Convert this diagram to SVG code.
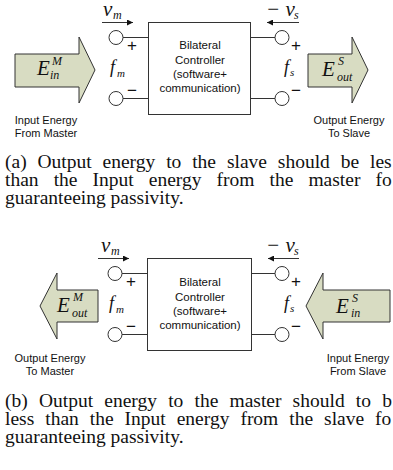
<svg xmlns="http://www.w3.org/2000/svg" width="393" height="470" viewBox="0 0 393 470">
<style>
.sans{font-family:"Liberation Sans",Arial,sans-serif;fill:#111}
.lbl{font-size:11px;text-anchor:middle}
.box{font-size:11.5px;text-anchor:middle}
.m{font-family:"Liberation Serif","Times New Roman",serif;font-style:italic;fill:#111}
.cap{font-family:"Liberation Serif","Times New Roman",serif;font-size:19.5px;fill:#111}
.pm{font-family:"Liberation Sans",Arial,sans-serif;font-size:17px;fill:#111}
.ln{stroke:#333;stroke-width:1;fill:none}
.big{fill:#d8dcc2;stroke:#333;stroke-width:1}
.term{fill:#fff;stroke:#333;stroke-width:1}
</style>
<defs>
<marker id="ah" viewBox="0 0 10 10" refX="10" refY="5" markerWidth="8" markerHeight="6" markerUnits="userSpaceOnUse" orient="auto">
<path d="M0,0 L10,5 L0,10 z" fill="#111"/>
</marker>
</defs>

<!-- (a) -->
<g id="controller-a">
<rect x="148.5" y="22.5" width="102" height="92" fill="#fff" stroke="#333"/>
<text class="sans box" x="200" y="49">Bilateral</text>
<text class="sans box" x="200" y="64">Controller</text>
<text class="sans box" x="200" y="78">(software+</text>
<text class="sans box" x="200" y="92">communication)</text>
</g>
<g id="master-port-a">
<circle class="term" cx="116" cy="37.5" r="7"/>
<circle class="term" cx="116" cy="98.5" r="7"/>
<text class="pm" x="127" y="51">+</text>
<text class="pm" x="127" y="96">−</text>
<text class="m" x="103" y="16" font-size="21">v</text>
<text class="m" x="113" y="19" font-size="12">m</text>
<text class="m" x="110" y="73" font-size="18">f</text>
<text class="m" x="117" y="77" font-size="11">m</text>
</g>
<g id="slave-port-a">
<circle class="term" cx="282" cy="37.5" r="7"/>
<circle class="term" cx="282" cy="98.5" r="7"/>
<text class="pm" x="291" y="51">+</text>
<text class="pm" x="291" y="96">−</text>
<text class="m" x="266" y="16" font-size="21">− v</text>
<text class="m" x="294" y="19" font-size="12">s</text>
<text class="m" x="284" y="73" font-size="18">f</text>
<text class="m" x="290" y="76" font-size="11">s</text>
</g>
<g id="energy-in-master-a">
<polygon class="big" points="15,54 79,54 79,37 95,70 79,103 79,87 15,87"/>
<text class="m" x="37" y="75" font-size="21">E</text>
<text class="m" x="52" y="65" font-size="12">M</text>
<text class="m" x="50" y="79" font-size="12">in</text>
<text class="sans lbl" x="46" y="124">Input Energy</text>
<text class="sans lbl" x="46" y="137">From Master</text>
</g>
<g id="energy-out-slave-a">
<polygon class="big" points="308,54 352,54 352,37 368,70 352,103 352,87 308,87"/>
<text class="m" x="322" y="76" font-size="21">E</text>
<text class="m" x="338" y="65" font-size="12">S</text>
<text class="m" x="337" y="81" font-size="12">out</text>
<text class="sans lbl" x="349" y="124">Output Energy</text>
<text class="sans lbl" x="349" y="137">To Slave</text>
</g>

<!-- (b) -->
<g id="controller-b">
<rect x="147.5" y="258.5" width="104" height="92" fill="#fff" stroke="#333"/>
<text class="sans box" x="200" y="286">Bilateral</text>
<text class="sans box" x="200" y="301">Controller</text>
<text class="sans box" x="200" y="315">(software+</text>
<text class="sans box" x="200" y="329">communication)</text>
</g>
<g id="master-port-b">
<circle class="term" cx="115" cy="273.5" r="7"/>
<circle class="term" cx="115" cy="334.5" r="7"/>
<text class="pm" x="126" y="287">+</text>
<text class="pm" x="126" y="332">−</text>
<text class="m" x="101" y="252" font-size="21">v</text>
<text class="m" x="111" y="255" font-size="12">m</text>
<text class="m" x="109" y="309" font-size="18">f</text>
<text class="m" x="116" y="313" font-size="11">m</text>
</g>
<g id="slave-port-b">
<circle class="term" cx="282" cy="273.5" r="7"/>
<circle class="term" cx="282" cy="334.5" r="7"/>
<text class="pm" x="291" y="287">+</text>
<text class="pm" x="291" y="332">−</text>
<text class="m" x="266" y="252" font-size="21">− v</text>
<text class="m" x="294" y="255" font-size="12">s</text>
<text class="m" x="284" y="309" font-size="18">f</text>
<text class="m" x="290" y="312" font-size="11">s</text>
</g>
<g id="energy-out-master-b">
<polygon class="big" points="98,290 57,290 57,273 40,306 57,339 57,322 98,322"/>
<text class="m" x="57" y="312" font-size="21">E</text>
<text class="m" x="73" y="301" font-size="12">M</text>
<text class="m" x="72" y="317" font-size="12">out</text>
<text class="sans lbl" x="50" y="362">Output Energy</text>
<text class="sans lbl" x="50" y="375">To Master</text>
</g>
<g id="energy-in-slave-b">
<polygon class="big" points="390,290 323,290 323,273 306,306 323,339 323,322 390,322"/>
<text class="m" x="336" y="313" font-size="21">E</text>
<text class="m" x="352" y="302" font-size="12">S</text>
<text class="m" x="351" y="317" font-size="12">in</text>
<text class="sans lbl" x="358" y="362">Input Energy</text>
<text class="sans lbl" x="358" y="375">From Slave</text>
</g>

<g id="connectors">
<line class="ln" x1="123" y1="37.5" x2="148.5" y2="37.5"/>
<line class="ln" x1="123" y1="98.5" x2="148.5" y2="98.5"/>
<line class="ln" x1="250.5" y1="37.5" x2="275" y2="37.5"/>
<line class="ln" x1="250.5" y1="98.5" x2="275" y2="98.5"/>
<line class="ln" x1="102" y1="22.5" x2="133" y2="22.5" marker-end="url(#ah)"/>
<line class="ln" x1="299" y1="22.5" x2="267" y2="22.5" marker-end="url(#ah)"/>
<line class="ln" x1="122" y1="273.5" x2="147.5" y2="273.5"/>
<line class="ln" x1="122" y1="334.5" x2="147.5" y2="334.5"/>
<line class="ln" x1="251.5" y1="273.5" x2="275" y2="273.5"/>
<line class="ln" x1="251.5" y1="334.5" x2="275" y2="334.5"/>
<line class="ln" x1="98" y1="258.5" x2="129" y2="258.5" marker-end="url(#ah)"/>
<line class="ln" x1="299" y1="258.5" x2="268" y2="258.5" marker-end="url(#ah)"/>
</g>

<g id="captions">
<text class="cap" x="5" y="168" word-spacing="6">(a) Output energy to the slave should be les</text>
<text class="cap" x="5" y="186" word-spacing="10.2">than the Input energy from the master fo</text>
<text class="cap" x="5" y="204">guaranteeing passivity.</text>
<text class="cap" x="5" y="407" word-spacing="6.3">(b) Output energy to the master should to b</text>
<text class="cap" x="5" y="425" word-spacing="6.1">less than the Input energy from the slave fo</text>
<text class="cap" x="5" y="443">guaranteeing passivity.</text>
</g>
</svg>
